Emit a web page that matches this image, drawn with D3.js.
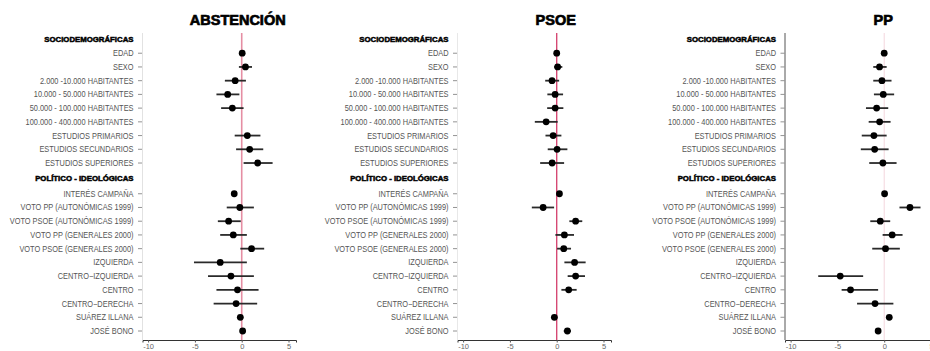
<!DOCTYPE html>
<html>
<head>
<meta charset="utf-8">
<script src="https://cdn.jsdelivr.net/npm/d3@7"></script>
<style>
  html, body { margin: 0; padding: 0; background: #fff; }
  svg { display: block; }
</style>
</head>
<body>
<svg id="chart" width="930" height="351"></svg>
<script>
// ---------------- DATA ----------------
const panelTitles = ["ABSTENCIÓN", "PSOE", "PP"];

const groupHeaders = ["SOCIODEMOGRÁFICAS", "POLÍTICO - IDEOLÓGICAS"];

const sociodemoLabels = [
  "EDAD", "SEXO", "2.000 -10.000 HABITANTES", "10.000 - 50.000 HABITANTES",
  "50.000 - 100.000 HABITANTES", "100.000 - 400.000 HABITANTES",
  "ESTUDIOS PRIMARIOS", "ESTUDIOS SECUNDARIOS", "ESTUDIOS SUPERIORES"
];

const politicoLabels = [
  "INTERÉS CAMPAÑA", "VOTO PP (AUTONÓMICAS 1999)", "VOTO PSOE (AUTONÓMICAS 1999)",
  "VOTO PP (GENERALES 2000)", "VOTO PSOE (GENERALES 2000)", "IZQUIERDA",
  "CENTRO−IZQUIERDA", "CENTRO", "CENTRO−DERECHA", "SUÁREZ ILLANA", "JOSÉ BONO"
];

const xTickValues = [-10, -5, 0, 5];

// estimates and 95% intervals (order: sociodemo labels, then politico labels)
const abstEst = [0.05, 0.4, -0.7, -1.5, -1.0, null, 0.6, 0.85, 1.7,
                 -0.8, -0.2, -1.4, -0.9, 1.05, -2.3, -1.15, -0.45, -0.6, -0.15, 0.1];
const abstLo  = [-0.1, -0.3, -1.8, -2.7, -2.2, null, -0.75, -0.6, 0.2,
                 -0.95, -1.6, -2.55, -2.3, -0.15, -5.1, -3.6, -2.7, -3.0, -0.45, -0.2];
const abstHi  = [0.15, 1.1, 0.45, -0.25, 0.2, null, 2.0, 2.3, 3.3,
                 -0.6, 1.3, -0.1, 0.55, 2.4, 0.55, 1.3, 1.8, 1.65, 0.15, 0.4];

const psoeEst = [0.0, 0.1, -0.5, -0.17, -0.17, -1.13, -0.38, 0.04, -0.49,
                 0.29, -1.45, 2.02, 0.82, 0.75, 1.91, 2.02, 1.28, null, -0.25, 1.14];
const psoeLo  = [-0.1, -0.28, -1.23, -1.0, -1.02, -2.34, -1.2, -0.96, -1.77,
                 0.15, -2.66, 1.35, -0.14, 0.04, 0.82, 1.17, 0.5, null, -0.4, 0.75];
const psoeHi  = [0.1, 0.6, 0.26, 0.68, 0.71, 0.1, 0.5, 1.14, 0.79,
                 0.43, -0.28, 2.73, 1.85, 1.53, 3.09, 3.02, 2.13, null, -0.1, 1.53];

const ppEst = [0.0, -0.5, -0.24, -0.1, -0.81, -0.49, -1.1, -1.02, -0.14,
               0.04, 2.75, -0.42, 0.85, 0.14, null, -4.7, -3.6, -0.98, 0.54, -0.65];
const ppLo  = [-0.1, -1.17, -1.17, -1.1, -1.95, -1.66, -2.4, -2.5, -1.6,
               -0.1, 1.63, -1.49, -0.17, -1.28, null, -7.05, -4.55, -2.9, 0.4, -0.95];
const ppHi  = [0.1, 0.26, 0.78, 1.06, 0.43, 0.68, 0.26, 0.47, 1.32,
               0.18, 3.88, 0.64, 1.96, 1.67, null, -2.25, -0.65, 0.98, 0.68, -0.35];

// ---------------- LAYOUT ----------------
const svg = d3.select("#chart");

const rowItems = [];
rowItems.push({ label: groupHeaders[0], header: true, slot: 0 });
sociodemoLabels.forEach((l, i) => rowItems.push({ label: l, header: false, slot: 1 + i }));
rowItems.push({ label: groupHeaders[1], header: true, slot: 10.12 });
politicoLabels.forEach((l, i) => rowItems.push({ label: l, header: false, slot: 11.24 + i }));
const dataRows = rowItems.filter(r => !r.header);

const y = d3.scaleLinear().domain([0, 21.24]).range([39.5, 331]);

const panels = [
  { title: panelTitles[0], left: 142.5, est: abstEst, lo: abstLo, hi: abstHi,
    yAxisColor: "#e2e2e2", zeroColor: "#e58ea3", zeroWidth: 1.6 },
  { title: panelTitles[1], left: 457.5, est: psoeEst, lo: psoeLo, hi: psoeHi,
    yAxisColor: "#e8e8e8", zeroColor: "#d43d6b", zeroWidth: 1.3 },
  { title: panelTitles[2], left: 785, est: ppEst, lo: ppLo, hi: ppHi,
    yAxisColor: "#555", zeroColor: "#f4d6dd", zeroWidth: 1.0 }
];
const plotW = 153.5;
const xDomain = [-10.6, 5.8];
const axisY = 340;
const topY = 33;
const labelScaleX = 0.86;

const labelFont = "'Liberation Sans', Arial, sans-serif";
const boldFont = "'Liberation Sans', Arial, sans-serif";

panels.forEach(p => {
  const g = svg.append("g");
  const x = d3.scaleLinear().domain(xDomain).range([p.left, p.left + plotW]);

  // title
  g.append("text")
    .attr("x", x(0) - (p.title === "ABSTENCIÓN" ? 4 : 1))
    .attr("y", 24.5)
    .attr("text-anchor", "middle")
    .attr("font-family", boldFont)
    .attr("font-weight", 700)
    .attr("font-size", 14.5)
    .attr("fill", "#000")
    .attr("stroke", "#000")
    .attr("stroke-width", 0.7)
    .text(p.title);

  // y axis line
  g.append("line")
    .attr("x1", p.left).attr("x2", p.left)
    .attr("y1", topY).attr("y2", axisY)
    .attr("stroke", p.yAxisColor).attr("stroke-width", 1);

  // row ticks and labels
  g.selectAll(".rtick").data(dataRows).enter().append("line")
    .attr("x1", p.left - 4.5).attr("x2", p.left - 0.5)
    .attr("y1", d => y(d.slot)).attr("y2", d => y(d.slot))
    .attr("stroke", "#777").attr("stroke-width", 0.8);

  g.selectAll(".rlab").data(rowItems).enter().append("text")
    .attr("transform", d => `translate(${p.left - 9},${y(d.slot)}) scale(${d.header ? 1 : labelScaleX},1)`)
    .attr("dy", "0.35em")
    .attr("text-anchor", "end")
    .attr("font-family", d => d.header ? boldFont : labelFont)
    .attr("font-weight", d => d.header ? 700 : 400)
    .attr("font-size", d => d.header ? 7.8 : 8.6)
    .attr("fill", d => d.header ? "#000" : "#555")
    .attr("stroke", d => d.header ? "#000" : "none")
    .attr("stroke-width", d => d.header ? 0.5 : 0)
    .text(d => d.label);

  // zero line
  g.append("line")
    .attr("x1", x(0)).attr("x2", x(0))
    .attr("y1", topY).attr("y2", axisY)
    .attr("stroke", p.zeroColor).attr("stroke-width", p.zeroWidth);

  // x axis
  const xAxis = d3.axisBottom(x).tickValues(xTickValues).tickSize(2.5).tickPadding(1.5)
    .tickFormat(d3.format("d"));
  const ax = g.append("g").attr("transform", `translate(0,${axisY})`).call(xAxis);
  ax.select(".domain").attr("stroke", "#333").attr("stroke-width", 1);
  ax.selectAll(".tick line").attr("stroke", "#555");
  ax.selectAll(".tick text")
    .attr("font-family", labelFont).attr("font-size", 7.5).attr("fill", "#666")
    .text(d => d < 0 ? "-" + Math.abs(d) : d);

  // error bars & points
  const pts = dataRows.map((r, i) => ({ slot: r.slot, est: p.est[i], lo: p.lo[i], hi: p.hi[i] }))
    .filter(d => d.est !== null);

  g.selectAll(".ebar").data(pts).enter().append("line")
    .attr("x1", d => x(d.lo)).attr("x2", d => x(d.hi))
    .attr("y1", d => y(d.slot)).attr("y2", d => y(d.slot))
    .attr("stroke", "#2a2a2a").attr("stroke-width", 1.8);

  g.selectAll(".pt").data(pts).enter().append("circle")
    .attr("cx", d => x(d.est)).attr("cy", d => y(d.slot))
    .attr("r", 3.4).attr("fill", "#000");
});
</script>
</body>
</html>
